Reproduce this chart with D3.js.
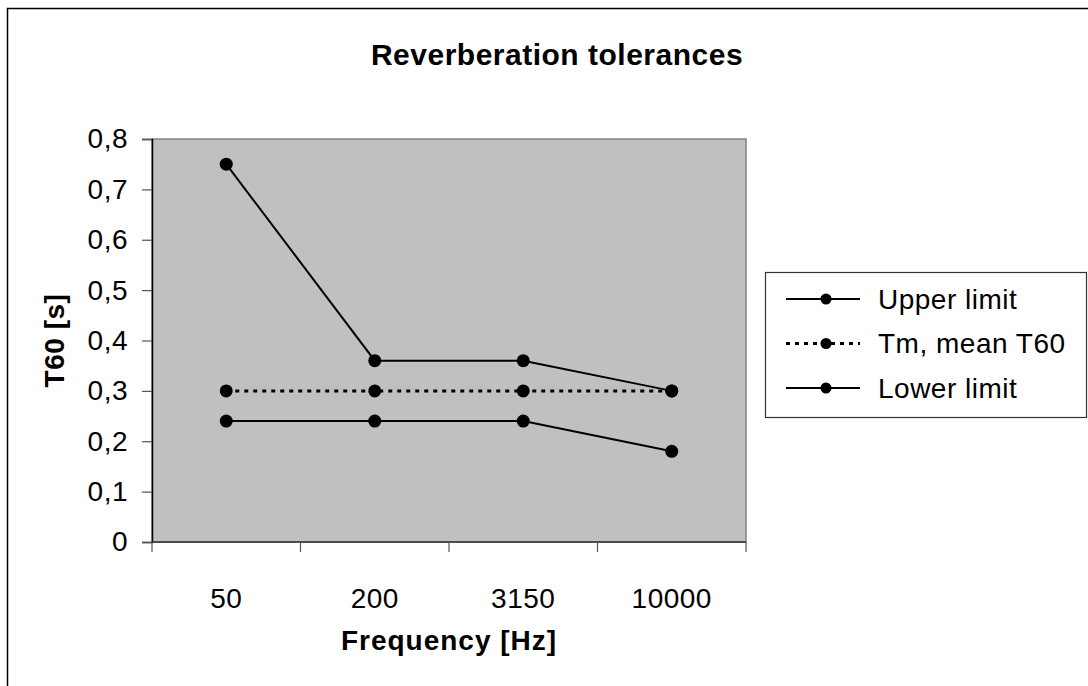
<!DOCTYPE html>
<html>
<head>
<meta charset="utf-8">
<script src="https://cdn.jsdelivr.net/npm/d3@7"></script>
<style>
  body { margin: 0; background: #fff; }
  svg { display: block; font-family: "Liberation Sans", Arial, sans-serif; }
</style>
</head>
<body>
<svg id="chart" width="1088" height="686"></svg>
<script>
const categories = ['50', '200', '3150', '10000'];
const upperLimit = [0.75, 0.36, 0.36, 0.30];
const meanT60 = [0.30, 0.30, 0.30, 0.30];
const lowerLimit = [0.24, 0.24, 0.24, 0.18];
const yTicks = [0, 0.1, 0.2, 0.3, 0.4, 0.5, 0.6, 0.7, 0.8];

const series = [
  { name: 'Upper limit', values: upperLimit, dash: null, width: 2 },
  { name: 'Tm, mean T60', values: meanT60, dash: '4,5', width: 3 },
  { name: 'Lower limit', values: lowerLimit, dash: null, width: 2 }
];

const svg = d3.select('#chart');
const plot = { left: 152, top: 139, right: 746, bottom: 542 };

// outer chart frame (runs off the right and bottom edge)
svg.append('rect')
  .attr('x', 7.5).attr('y', 8.5)
  .attr('width', 1100).attr('height', 700)
  .attr('fill', '#fff').attr('stroke', '#000').attr('stroke-width', 1.5);

const x = d3.scaleBand().domain(categories).range([plot.left, plot.right]);
const y = d3.scaleLinear().domain([0, 0.8]).range([plot.bottom, plot.top]);

// plot area
svg.append('rect')
  .attr('x', plot.left).attr('y', plot.top)
  .attr('width', plot.right - plot.left).attr('height', plot.bottom - plot.top)
  .attr('fill', '#c0c0c0').attr('stroke', '#808080').attr('stroke-width', 1.5);

// y axis
const yAxis = svg.append('g')
  .attr('transform', `translate(${plot.left},0)`)
  .call(d3.axisLeft(y).tickValues(yTicks).tickSize(10).tickPadding(14)
    .tickFormat(d => d3.format('.1~f')(d).replace('.', ',')));
yAxis.select('.domain').attr('stroke', '#000').attr('stroke-width', 1.5);
yAxis.selectAll('.tick line').attr('stroke', '#555').attr('stroke-width', 1.2);
yAxis.selectAll('text').attr('font-size', 28).attr('fill', '#000')
  .attr('letter-spacing', 0.5)
  .attr('font-family', '"Liberation Sans", Arial, sans-serif');

// x axis, ticks between categories
const xAxis = svg.append('g').attr('transform', `translate(0,${plot.bottom})`);
xAxis.append('line')
  .attr('x1', plot.left).attr('x2', plot.right)
  .attr('stroke', '#333').attr('stroke-width', 1.5);
const bounds = categories.map(c => x(c)).concat([x.range()[1]]);
xAxis.selectAll('line.tick').data(bounds).join('line')
  .attr('class', 'tick')
  .attr('x1', d => d).attr('x2', d => d)
  .attr('y1', 0).attr('y2', 10)
  .attr('stroke', '#555').attr('stroke-width', 1.2);
xAxis.selectAll('text').data(categories).join('text')
  .attr('x', d => x(d) + x.bandwidth() / 2)
  .attr('y', 66)
  .attr('text-anchor', 'middle')
  .attr('font-size', 28)
  .attr('letter-spacing', 0.5)
  .text(d => d);

// series
const line = d3.line()
  .x((d, i) => x(categories[i]) + x.bandwidth() / 2)
  .y(d => y(d));

series.forEach(s => {
  svg.append('path')
    .datum(s.values)
    .attr('d', line)
    .attr('fill', 'none')
    .attr('stroke', '#000')
    .attr('stroke-width', s.width)
    .attr('stroke-dasharray', s.dash);
  svg.append('g').selectAll('circle').data(s.values).join('circle')
    .attr('cx', (d, i) => x(categories[i]) + x.bandwidth() / 2)
    .attr('cy', d => y(d))
    .attr('r', 6.5)
    .attr('fill', '#000');
});

// titles
svg.append('text')
  .attr('x', 557).attr('y', 65)
  .attr('text-anchor', 'middle')
  .attr('font-size', 30).attr('font-weight', 'bold')
  .attr('letter-spacing', 0.5)
  .text('Reverberation tolerances');

svg.append('text')
  .attr('x', (plot.left + plot.right) / 2).attr('y', 650)
  .attr('text-anchor', 'middle')
  .attr('font-size', 28).attr('font-weight', 'bold')
  .attr('letter-spacing', 1)
  .text('Frequency [Hz]');

svg.append('text')
  .attr('transform', `translate(64,${(plot.top + plot.bottom) / 2}) rotate(-90)`)
  .attr('text-anchor', 'middle')
  .attr('font-size', 28).attr('font-weight', 'bold')
  .attr('letter-spacing', 0.5)
  .text('T60 [s]');

// legend
const legend = svg.append('g');
legend.append('rect')
  .attr('x', 765.5).attr('y', 272.5)
  .attr('width', 321).attr('height', 145)
  .attr('fill', '#fff').attr('stroke', '#333').attr('stroke-width', 1.2);

const rows = legend.selectAll('g.row').data(series).join('g')
  .attr('class', 'row')
  .attr('transform', (d, i) => `translate(0,${299 + i * 44.5})`);
rows.append('line')
  .attr('x1', 786).attr('x2', 860)
  .attr('stroke', '#000')
  .attr('stroke-width', d => d.width)
  .attr('stroke-dasharray', d => d.dash);
rows.append('circle')
  .attr('cx', 826).attr('r', 5.5).attr('fill', '#000');
rows.append('text')
  .attr('x', 878).attr('dy', '0.35em')
  .attr('font-size', 28)
  .attr('letter-spacing', 0.5)
  .text(d => d.name);
</script>
</body>
</html>
